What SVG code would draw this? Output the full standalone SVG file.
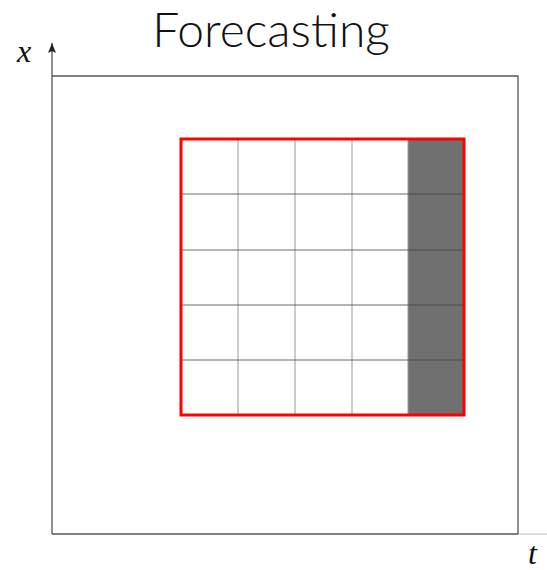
<svg xmlns="http://www.w3.org/2000/svg" width="547" height="570" viewBox="0 0 547 570">
<style>
.axis{stroke:#555;stroke-width:1.3;fill:none}
.grid{stroke:#999;stroke-width:1;fill:none}
.hgrid{stroke:#444;stroke-width:0.8;fill:none}
.title{font-family:Lato,"Open Sans",sans-serif;font-size:48px;font-weight:300;fill:#111}
.math{font-family:"Liberation Serif",serif;font-style:italic;font-size:32px;fill:#111}
</style>
<defs>
<marker id="arr" markerWidth="10" markerHeight="8" refX="10" refY="4" orient="auto" markerUnits="userSpaceOnUse" viewBox="0 0 10 8">
<path d="M0,0 L10,4 L0,8 L2,4 Z" fill="#222"/>
</marker>
</defs>
<rect width="547" height="570" fill="#fff"/>
<text class="title" x="271" y="47" text-anchor="middle">Forecasting</text>
<g id="axes">
<line class="axis" x1="52" y1="534" x2="52" y2="43" marker-end="url(#arr)"/>
<line class="axis" x1="52" y1="534" x2="518" y2="534"/>
<line x1="518" y1="534" x2="547" y2="534" stroke="#bbb" stroke-width="1"/>
<polyline class="axis" points="52,76 518,76 518,534"/>
<text class="math" x="17" y="62">x</text>
<text class="math" x="528" y="564">t</text>
</g>
<g id="window">
<rect x="408" y="139" width="56" height="276" fill="#707070"/>
<g class="grid">
<line x1="238" y1="139" x2="238" y2="415"/>
<line x1="295" y1="139" x2="295" y2="415"/>
<line x1="352" y1="139" x2="352" y2="415"/>
<line x1="408" y1="139" x2="408" y2="415"/>
</g>
<g class="hgrid">
<line x1="181" y1="194" x2="464" y2="194"/>
<line x1="181" y1="250" x2="464" y2="250"/>
<line x1="181" y1="305" x2="464" y2="305"/>
<line x1="181" y1="360" x2="464" y2="360"/>
</g>
<rect x="181" y="139" width="283" height="276" fill="none" stroke="#f00" stroke-width="3"/>
</g>
</svg>
